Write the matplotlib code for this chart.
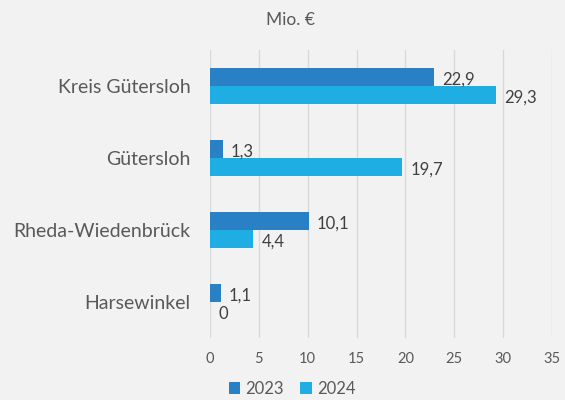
import matplotlib
matplotlib.use("Agg")
import matplotlib.pyplot as plt
import numpy as np

# data (Mio. EUR)
categories = ["Kreis Gütersloh", "Gütersloh", "Rheda-Wiedenbrück", "Harsewinkel"]
values_2023 = [22.9, 1.3, 10.1, 1.1]
values_2024 = [29.3, 19.7, 4.4, 0.0]
series_labels = ["2023", "2024"]
x_ticks = [0, 5, 10, 15, 20, 25, 30, 35]

col_2023 = "#2A80C5"
col_2024 = "#1EAEE3"
bg = "#F2F2F2"
txt = "#595959"

plt.rcParams["font.family"] = ["Lato", "DejaVu Sans"]

fig = plt.figure(figsize=(5.65, 4.0), dpi=100, facecolor=bg)
ax = fig.add_axes([210 / 565, 1 - 338 / 400, 342 / 565, 288 / 400])
ax.set_facecolor(bg)

y = np.arange(len(categories))
h = 0.25
b1 = ax.barh(y - h / 2, values_2023, height=h, color=col_2023, label=series_labels[0])
b2 = ax.barh(y + h / 2, values_2024, height=h, color=col_2024, label=series_labels[1])

def fmt(v):
    return ("%g" % v).replace(".", ",")

for bars, vals in [(b1, values_2023), (b2, values_2024)]:
    for rect, v in zip(bars, vals):
        ax.text(v + 0.85, rect.get_y() + rect.get_height() / 2 + 0.04, fmt(v),
                va="center", ha="left", fontsize=12, color="#404040")

ax.set_ylim(len(categories) - 0.5, -0.5)
ax.set_xlim(0, 35)
ax.set_xticks(x_ticks)
ax.set_xticklabels([str(t) for t in x_ticks])
ax.set_yticks(y)
ax.set_yticklabels(categories)
ax.tick_params(axis="y", length=0, pad=14, labelsize=14, labelcolor=txt)
ax.tick_params(axis="x", length=0, pad=10, labelsize=10.5, labelcolor=txt)
ax.grid(axis="x", color="#D9D9D9", linewidth=1)
ax.set_axisbelow(True)
for s in ax.spines.values():
    s.set_visible(False)

fig.text(290 / 565, 1 - 20 / 400, "Mio. €", ha="center", va="center", fontsize=12.5, color=txt)

fig.legend(loc="center", bbox_to_anchor=(292 / 565, 1 - 389 / 400), ncol=2, frameon=False,
           fontsize=12, labelcolor=txt, handlelength=0.7, handleheight=0.7,
           handletextpad=0.3, columnspacing=1.0)

plt.savefig("out.png", dpi=100, facecolor=bg)
